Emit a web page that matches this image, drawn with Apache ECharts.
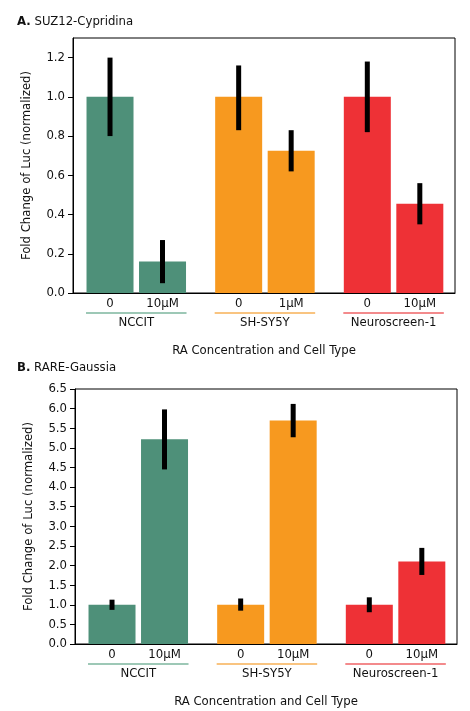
<!DOCTYPE html>
<html><head><meta charset="utf-8">
<script src="https://cdn.jsdelivr.net/npm/echarts@6/dist/echarts.min.js"></script>
<style>html,body{margin:0;background:#fff}#c{width:470px;height:711px}</style>
</head><body><div id="c"></div>
<script>
var xPos = [0, 1, 2.45, 3.45, 4.9, 5.9];
var barLabelsA = ['0', '10µM', '0', '1µM', '0', '10µM'];
var barLabelsB = ['0', '10µM', '0', '10µM', '0', '10µM'];
var groups = ['NCCIT', 'SH-SY5Y', 'Neuroscreen-1'];
var valsA = [1.0, 0.16, 1.0, 0.725, 1.0, 0.455];
var lowA = [0.80, 0.05, 0.83, 0.62, 0.82, 0.35];
var highA = [1.20, 0.27, 1.16, 0.83, 1.18, 0.56];
var valsB = [1.0, 5.22, 1.0, 5.70, 1.0, 2.10];
var lowB = [0.87, 4.45, 0.85, 5.27, 0.81, 1.76];
var highB = [1.13, 5.98, 1.16, 6.12, 1.19, 2.45];
var colors = ['#4e9079', '#f7991f', '#ee3136'];
var light = ['#9dc8b6', '#f9c480', '#f38a8c'];
var font = '"DejaVu Sans Condensed", "Liberation Sans", sans-serif';
var fs = 13;

var chart = echarts.init(document.getElementById('c'));
function barData(v) {
  return v.map(function (y, i) { return { value: [xPos[i], y], itemStyle: { color: colors[Math.floor(i / 2)] } }; });
}
function errData(lo, hi) { return lo.map(function (l, i) { return [xPos[i], l, hi[i]]; }); }
function errSeries(idx, lo, hi) {
  return { type: 'custom', xAxisIndex: idx, yAxisIndex: idx, data: errData(lo, hi), z: 5,
    renderItem: function (p, api) {
      var a = api.coord([api.value(0), api.value(1)]), b = api.coord([api.value(0), api.value(2)]);
      return { type: 'rect', shape: { x: a[0] - 2.5, y: b[1], width: 5, height: a[1] - b[1] }, style: { fill: '#000' } };
    } };
}
function annSeries(idx, labels) {
  return { type: 'custom', xAxisIndex: idx, yAxisIndex: idx, data: xPos.map(function (x, i) { return [x, i]; }), clip: false, z: 6,
    renderItem: function (p, api) {
      var i = api.value(1), c = api.coord([api.value(0), 0]);
      var kids = [{ type: 'text', style: { x: c[0], y: c[1] + 11, text: labels[i], align: 'center', verticalAlign: 'middle', font: fs + 'px ' + font, fill: '#111' } }];
      if (i % 2 === 0) {
        var c2 = api.coord([xPos[i + 1], 0]);
        kids.push({ type: 'rect', shape: { x: c[0] - 24, y: c[1] + 19, width: c2[0] - c[0] + 48, height: 2 }, style: { fill: light[i / 2] } });
        kids.push({ type: 'text', style: { x: (c[0] + c2[0]) / 2, y: c[1] + 30, text: groups[i / 2], align: 'center', verticalAlign: 'middle', font: fs + 'px ' + font, fill: '#111' } });
      }
      return { type: 'group', children: kids };
    } };
}
function yAx(idx, max, interval, showMax) {
  return { type: 'value', gridIndex: idx, min: 0, max: max, interval: interval,
    name: 'Fold Change of Luc (normalized)', nameLocation: 'middle', nameGap: 40,
    nameTextStyle: { fontFamily: font, fontSize: fs, color: '#111' },
    axisLine: { show: true, onZero: false, lineStyle: { color: '#000' } }, axisTick: { show: true, length: 5, lineStyle: { color: '#000' } },
    axisLabel: { fontFamily: font, fontSize: fs, color: '#111', showMaxLabel: showMax, formatter: function (v) { return v.toFixed(1); } },
    splitLine: { show: false } };
}
function xAx(idx) {
  return { type: 'value', gridIndex: idx, min: -0.705, max: 6.57, axisLabel: { show: false }, axisTick: { show: false },
    axisLine: { show: true, onZero: false, lineStyle: { color: '#000' } }, splitLine: { show: false },
    name: 'RA Concentration and Cell Type', nameLocation: 'middle', nameGap: 51,
    nameTextStyle: { fontFamily: font, fontSize: fs, color: '#111' } };
}
var titleStyle = { fontFamily: font, fontSize: fs, fontWeight: 'normal', color: '#111', rich: { b: { fontFamily: font, fontSize: fs, fontWeight: 'bold' } } };
chart.setOption({
  animation: false,
  title: [
    { left: 12, top: 10, text: '{b|A.} SUZ12-Cypridina', textStyle: titleStyle },
    { left: 12, top: 356, text: '{b|B.} RARE-Gaussia', textStyle: titleStyle }
  ],
  grid: [
    { left: 73, top: 38, width: 382, height: 255, show: true, borderColor: '#000', borderWidth: 1 },
    { left: 75, top: 389, width: 382, height: 255, show: true, borderColor: '#000', borderWidth: 1 }
  ],
  xAxis: [xAx(0), xAx(1)],
  yAxis: [yAx(0, 1.3, 0.2, false), yAx(1, 6.5, 0.5, true)],
  series: [
    { type: 'bar', xAxisIndex: 0, yAxisIndex: 0, barWidth: 47, data: barData(valsA) },
    errSeries(0, lowA, highA), annSeries(0, barLabelsA),
    { type: 'bar', xAxisIndex: 1, yAxisIndex: 1, barWidth: 47, data: barData(valsB) },
    errSeries(1, lowB, highB), annSeries(1, barLabelsB)
  ]
});
</script></body></html>
